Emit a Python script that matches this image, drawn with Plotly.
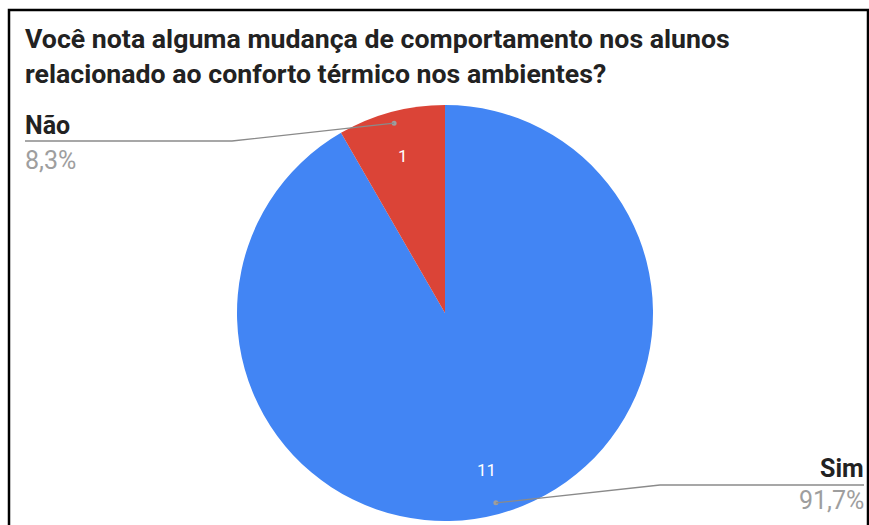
import math
import plotly.graph_objects as go

# ---- data ----
labels = ["Sim", "Não"]
values = [11, 1]
percent_labels = ["91,7%", "8,3%"]
colors = ["#4285F4", "#DB4437"]
title_text = "Você nota alguma mudança de comportamento nos alunos<br>relacionado ao conforto térmico nos ambientes?"

# ---- layout constants (pixels) ----
W, H = 869, 525
CX, CY, R = 445, 313, 208


def px(x):
    return x / W


def py(y):
    return 1 - y / H


fig = go.Figure()
fig.add_trace(go.Pie(
    labels=labels, values=values, sort=False, direction="clockwise", rotation=0,
    marker=dict(colors=colors, line=dict(width=0)),
    textinfo="none", showlegend=False,
    domain=dict(x=[px(CX - R), px(CX + R)], y=[py(CY + R), py(CY - R)]),
))

total = sum(values)
cum = 0
mids = []
for v in values:
    mids.append(math.radians(90 - 360 * (cum + v / 2) / total))
    cum += v

annotations = []
shapes = []
for v, a in zip(values, mids):
    x = CX + 0.78 * R * math.cos(a)
    y = CY - 0.78 * R * math.sin(a)
    annotations.append(dict(x=px(x), y=py(y), xref="paper", yref="paper", text=str(v),
                            xanchor="center", yanchor="middle",
                            showarrow=False, font=dict(family="Roboto", size=17, color="white")))

dots = []
for a in mids:
    x = CX + 0.945 * R * math.cos(a)
    y = CY - 0.945 * R * math.sin(a)
    dots.append((x, y))
    shapes.append(dict(type="circle", xref="paper", yref="paper",
                       x0=px(x - 2.5), x1=px(x + 2.5), y0=py(y + 2.5), y1=py(y - 2.5),
                       fillcolor="#9e9e9e", line=dict(width=0)))

# Sim leader (bottom right)
d_sim = dots[0]
shapes.append(dict(type="path", xref="paper", yref="paper",
                   path=f"M {px(d_sim[0])} {py(d_sim[1])} L {px(660)} {py(485)} L {px(864)} {py(485)}",
                   line=dict(color="#8a8a8a", width=1.3)))
# Não leader (top left)
d_nao = dots[1]
shapes.append(dict(type="path", xref="paper", yref="paper",
                   path=f"M {px(25)} {py(141)} L {px(232)} {py(141)} L {px(d_nao[0])} {py(d_nao[1])}",
                   line=dict(color="#8a8a8a", width=1.3)))

shapes.append(dict(type="rect", xref="paper", yref="paper",
                   x0=px(9), x1=px(868), y0=py(530), y1=py(10),
                   line=dict(color="black", width=2.5), fillcolor="rgba(0,0,0,0)"))

annotations += [
    dict(x=px(23), y=py(125), xref="paper", yref="paper", text=f"<b>{labels[1]}</b>", showarrow=False,
         xanchor="left", yanchor="middle", font=dict(family="Roboto", size=25, color="#222222")),
    dict(x=px(23), y=py(160), xref="paper", yref="paper", text=percent_labels[1], showarrow=False,
         xanchor="left", yanchor="middle", font=dict(family="Roboto", size=25, color="#9e9e9e")),
    dict(x=px(866), y=py(468), xref="paper", yref="paper", text=f"<b>{labels[0]}</b>", showarrow=False,
         xanchor="right", yanchor="middle", font=dict(family="Roboto", size=25, color="#222222")),
    dict(x=px(866), y=py(500), xref="paper", yref="paper", text=percent_labels[0], showarrow=False,
         xanchor="right", yanchor="middle", font=dict(family="Roboto", size=25, color="#9e9e9e")),
    dict(x=px(23), y=py(57), xref="paper", yref="paper", text=f"<b>{title_text}</b>", showarrow=False,
         xanchor="left", yanchor="middle", align="left",
         font=dict(family="Roboto", size=26.7, color="#222222")),
]

fig.update_layout(
    width=W, height=H,
    margin=dict(l=0, r=0, t=0, b=0),
    paper_bgcolor="white", plot_bgcolor="white",
    shapes=shapes, annotations=annotations,
)

fig.write_html("out.html", config={"displayModeBar": False})
with open("out.html", "r", encoding="utf-8") as f:
    html = f.read()
html = html.replace("<body>", '<body style="margin:0;overflow:hidden">', 1)
with open("out.html", "w", encoding="utf-8") as f:
    f.write(html)
